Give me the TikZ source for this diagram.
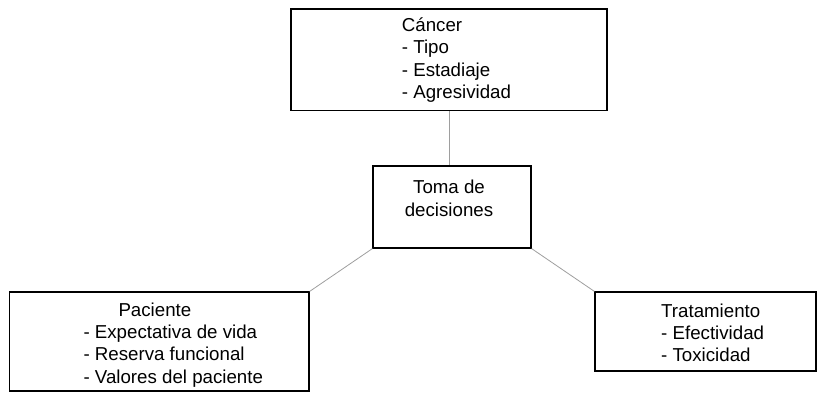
\documentclass[tikz,border=0pt]{standalone}
\usepackage{fontspec}
\setmainfont{Liberation Sans}
\usetikzlibrary{positioning}
\definecolor{linkgray}{gray}{0.62}
\tikzstyle{frame} = [rectangle, draw=black, line width=1.2pt, inner sep=0pt]
\tikzstyle{words} = [inner sep=0pt, align=left, font=\fontsize{18.7}{22.3}\selectfont]
\tikzstyle{link} = [draw=linkgray, line width=0.8pt]

\begin{document}
\begin{tikzpicture}[x=1pt, y=-1pt]
  \useasboundingbox (0,0) rectangle (817,393);

  % boxes
  \node (cancer) [frame, minimum width=316pt, minimum height=101.5pt] at (449,59.8) {};
  \node (toma) [frame, minimum width=158pt, minimum height=82pt] at (452,207) {};
  \node (paciente) [frame, minimum width=299.5pt, minimum height=99pt] at (159.3,341.5) {};
  \node (tratamiento) [frame, minimum width=221pt, minimum height=79pt] at (705.5,331.5) {};

  % texts
  \node (cancertxt) [words, anchor=north west] at (401.7,17.5)
    {Cáncer\\- Tipo\\- Estadiaje\\- Agresividad};
  \node (tomatxt) [words, align=center, anchor=north] at (449,180)
    {Toma de\\decisiones};
  \node (pacientetxt) [words, anchor=north west] at (83.3,302.5)
    {\hspace*{35pt}Paciente\\- Expectativa de vida\\- Reserva funcional\\- Valores del paciente};
  \node (tratamientotxt) [words, anchor=north west] at (661,303.5)
    {Tratamiento\\- Efectividad\\- Toxicidad};

  % links
  \draw [link] (cancer.south) -- (cancer.south |- toma.north);
  \draw [link] (toma.south west) -- (paciente.north east);
  \draw [link] (toma.south east) -- (tratamiento.north west);

\end{tikzpicture}
\end{document}
